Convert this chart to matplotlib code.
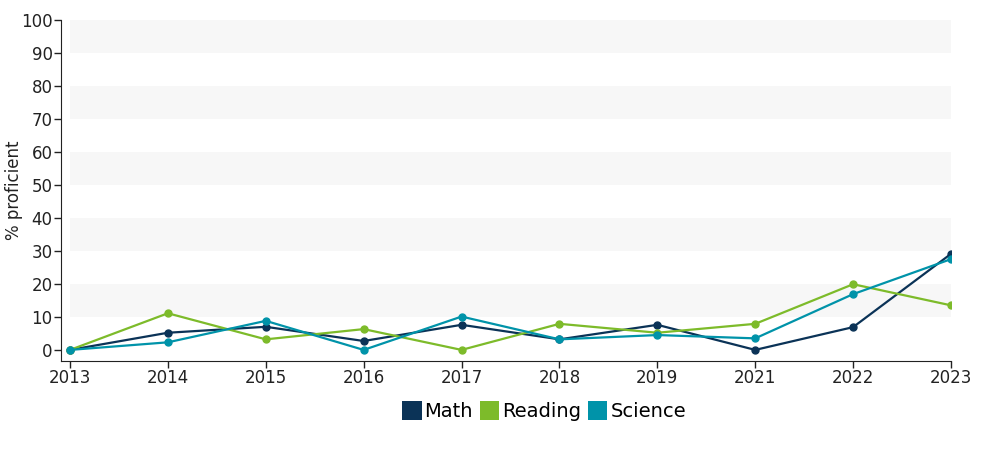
import matplotlib
matplotlib.use("Agg")
import matplotlib.pyplot as plt
from matplotlib.patches import Patch

plt.rcParams["font.family"] = ["DejaVu Sans"]

years = ["2013", "2014", "2015", "2016", "2017", "2018", "2019", "2021", "2022", "2023"]
math_pct = [0, 5.2, 7.0, 2.7, 7.6, 3.2, 7.6, 0, 6.9, 29.1]
reading_pct = [0, 11.1, 3.2, 6.3, 0, 7.9, 5.2, 7.9, 19.9, 13.5]
science_pct = [0, 2.3, 8.8, 0, 10.1, 3.2, 4.5, 3.5, 16.9, 27.5]

series = [("Math", math_pct, "#0b3357"),
          ("Reading", reading_pct, "#7dbb2a"),
          ("Science", science_pct, "#0093a9")]

fig = plt.figure(figsize=(10, 4.5), dpi=100)
ax = fig.add_axes([0.061, 0.198, 0.890, 0.758])

x = list(range(len(years)))
x0 = -0.092
ax.set_xlim(x0, len(years) - 1)
ax.set_ylim(-3.33, 100)

# alternating background bands
for lo in range(10, 100, 20):
    ax.axhspan(lo, lo + 10, xmin=(0 - x0) / (len(years) - 1 - x0), xmax=1,
               color="#f7f7f7", lw=0, zorder=0)

for name, vals, col in series:
    ax.plot(x, vals, color=col, lw=1.6, marker="o", ms=5, zorder=3)

ax.set_xticks(x)
ax.set_xticklabels(years)
ax.set_yticks(range(0, 101, 10))
ax.tick_params(axis="both", labelsize=12, length=5, width=1, color="#222222",
               labelcolor="#222222", pad=1)
for s in ["top", "right"]:
    ax.spines[s].set_visible(False)
for s in ["left", "bottom"]:
    ax.spines[s].set_color("#222222")
ax.set_ylabel("% proficient", fontsize=12, color="#222222")
ax.yaxis.set_label_coords(-0.043, 0.5)

handles = [Patch(facecolor=c, edgecolor="none", label=n) for n, v, c in series]
fig.legend(handles=handles, loc="center", bbox_to_anchor=(0.544, 0.086), ncol=3,
           frameon=False, fontsize=14, handlelength=1.0, handleheight=1.1,
           handletextpad=0.15, columnspacing=0.35, borderpad=0)

fig.savefig("out.png", dpi=100)
